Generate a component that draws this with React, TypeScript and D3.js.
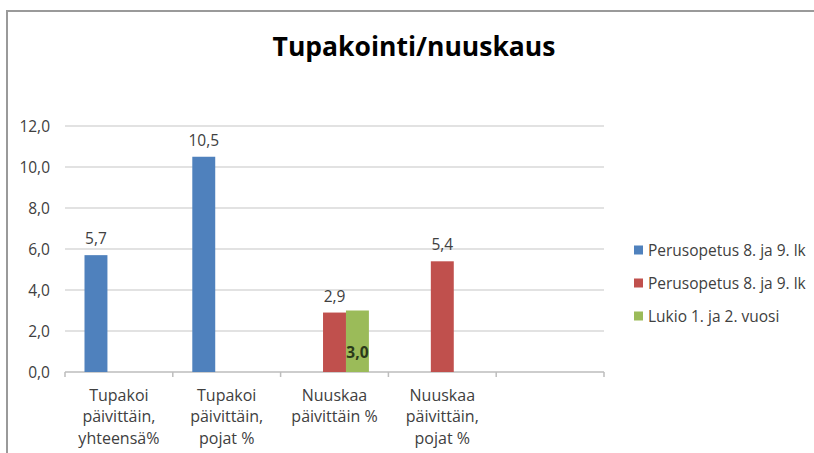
import React, { useEffect, useRef } from 'react';
import * as d3 from 'd3';

// kategoriat (rivit x-akselin alla)
const categories: string[][] = [
  ['Tupakoi', 'päivittäin,', 'yhteensä%'],
  ['Tupakoi', 'päivittäin,', 'pojat %'],
  ['Nuuskaa', 'päivittäin %'],
  ['Nuuskaa', 'päivittäin,', 'pojat %'],
  [],
];

const seriesNames = ['Perusopetus 8. ja 9. lk', 'Perusopetus 8. ja 9. lk', 'Lukio 1. ja 2. vuosi'];
const seriesColors = ['#4F81BD', '#C0504D', '#9BBB59'];

// arvot, null = ei palkkia
const perusopetusA: (number | null)[] = [5.7, 10.5, null, null, null];
const perusopetusB: (number | null)[] = [null, null, 2.9, 5.4, null];
const lukio: (number | null)[] = [null, null, 3.0, null, null];

const yTicks = [0, 2, 4, 6, 8, 10, 12];

function App() {
  const svgRef = useRef<SVGSVGElement>(null);

  useEffect(() => {
    document.body.style.margin = '0';
    const svg = d3.select(svgRef.current);
    svg.selectAll('*').remove();

    const font = "'Open Sans', 'Liberation Sans', sans-serif";
    const plot = { left: 65, right: 604, top: 126, bottom: 372 };

    // kehys
    svg.append('path')
      .attr('d', `M7,453 L7,11 L814,11`)
      .attr('fill', 'none')
      .attr('stroke', '#9a9a9a')
      .attr('stroke-width', 2);

    // otsikko
    svg.append('text')
      .attr('x', 414)
      .attr('y', 56)
      .attr('text-anchor', 'middle')
      .attr('font-family', font)
      .attr('font-size', 26.5)
      .attr('font-weight', 'bold')
      .attr('fill', '#000')
      .text('Tupakointi/nuuskaus');

    const x = d3.scaleBand<number>()
      .domain(d3.range(categories.length))
      .range([plot.left, plot.right])
      .padding(0);

    const inner = d3.scaleBand<number>()
      .domain([0, 1, 2])
      .range([0, x.bandwidth()])
      .paddingOuter(0.85)
      .paddingInner(0);

    const y = d3.scaleLinear().domain([0, 12]).range([plot.bottom, plot.top]);

    // ruudukko
    svg.append('g')
      .selectAll('line')
      .data(yTicks)
      .enter()
      .append('line')
      .attr('x1', plot.left)
      .attr('x2', plot.right)
      .attr('y1', d => y(d))
      .attr('y2', d => y(d))
      .attr('stroke', d => (d === 0 ? '#bdbdbd' : '#d9d9d9'))
      .attr('stroke-width', 1.5);

    // y-akselin tekstit
    svg.append('g')
      .selectAll('text')
      .data(yTicks)
      .enter()
      .append('text')
      .attr('x', 50)
      .attr('y', d => y(d) + 5.5)
      .attr('text-anchor', 'end')
      .attr('font-family', font)
      .attr('font-size', 15.5)
      .attr('fill', '#404040')
      .text(d => d3.format('.1f')(d).replace('.', ','));

    // x-akselin väkäset
    const edges = d3.range(categories.length + 1).map(i => plot.left + i * x.step());
    svg.append('g')
      .selectAll('line')
      .data(edges)
      .enter()
      .append('line')
      .attr('x1', d => d)
      .attr('x2', d => d)
      .attr('y1', plot.bottom)
      .attr('y2', plot.bottom + 5)
      .attr('stroke', '#bdbdbd')
      .attr('stroke-width', 1.5);

    // x-akselin tekstit
    const xl = svg.append('g');
    categories.forEach((lines, i) => {
      lines.forEach((line, j) => {
        xl.append('text')
          .attr('x', (x(i) as number) + x.bandwidth() / 2)
          .attr('y', 400.5 + j * 21.5)
          .attr('text-anchor', 'middle')
          .attr('font-family', font)
          .attr('font-size', 16)
          .attr('fill', '#404040')
          .text(line);
      });
    });

    // palkit
    const allSeries = [perusopetusA, perusopetusB, lukio];
    allSeries.forEach((vals, s) => {
      const g = svg.append('g');
      const data = vals.map((v, i) => ({ v, i })).filter(d => d.v !== null) as { v: number; i: number }[];
      g.selectAll('rect')
        .data(data)
        .enter()
        .append('rect')
        .attr('x', d => (x(d.i) as number) + (inner(s) as number))
        .attr('y', d => y(d.v))
        .attr('width', inner.bandwidth())
        .attr('height', d => y(0) - y(d.v))
        .attr('fill', seriesColors[s]);

      g.selectAll('text')
        .data(data)
        .enter()
        .append('text')
        .attr('x', d => (x(d.i) as number) + (inner(s) as number) + inner.bandwidth() / 2)
        .attr('y', d => (s === 2 ? y(0) - 14.5 : y(d.v) - 11))
        .attr('text-anchor', 'middle')
        .attr('font-family', font)
        .attr('font-size', 15.5)
        .attr('fill', s === 2 ? '#2b3a1a' : '#404040')
        .attr('font-weight', s === 2 ? 'bold' : 'normal')
        .text(d => d3.format('.1f')(d.v).replace('.', ','));
    });

    // selite
    const legend = svg.append('g');
    seriesNames.forEach((name, i) => {
      const ly = 250 + i * 33;
      legend.append('rect')
        .attr('x', 634)
        .attr('y', ly - 4.5)
        .attr('width', 9)
        .attr('height', 9)
        .attr('fill', seriesColors[i]);
      legend.append('text')
        .attr('x', 648)
        .attr('y', ly + 5.5)
        .attr('font-family', font)
        .attr('font-size', 15.5)
        .attr('fill', '#404040')
        .text(name);
    });
  }, []);

  return <svg ref={svgRef} width={814} height={453} style={{ display: 'block', background: '#fff' }} />;
}

export default App;
